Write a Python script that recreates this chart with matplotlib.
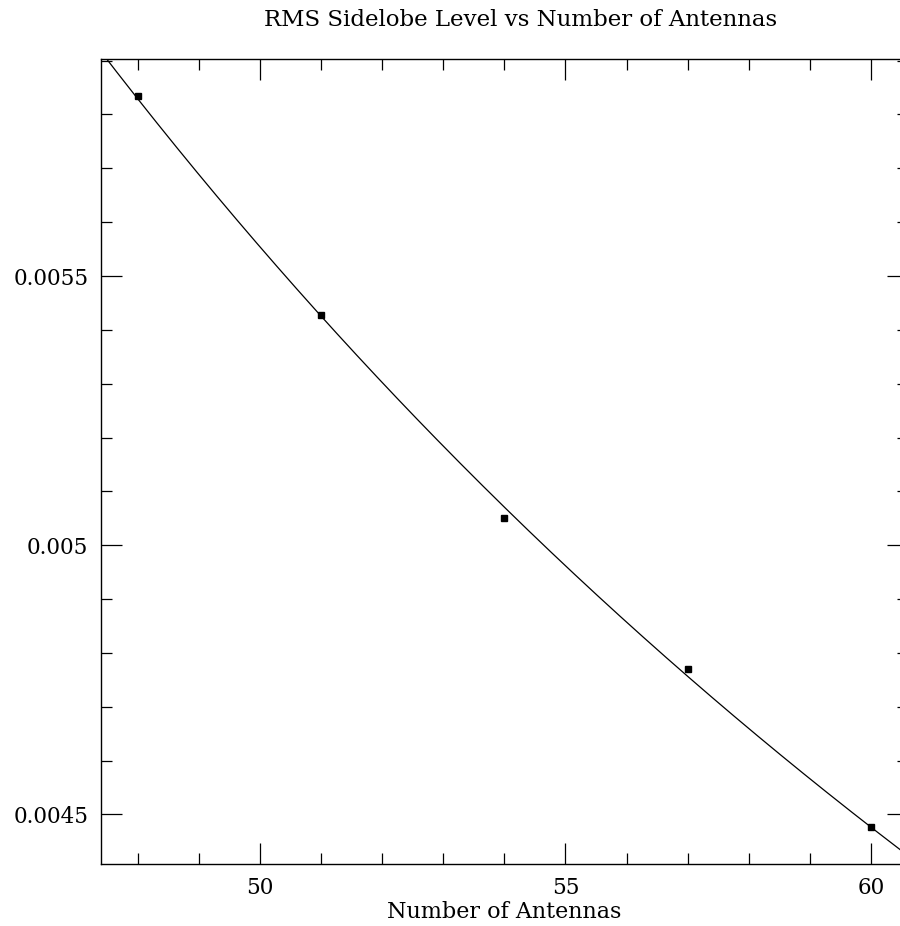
import numpy as np
import matplotlib
matplotlib.use('Agg')
import matplotlib.pyplot as plt
from matplotlib.ticker import MultipleLocator, FuncFormatter

# Data
antennas = [48, 51, 54, 57, 60]
rms_sidelobe = [0.005835, 0.005428, 0.005050, 0.004770, 0.004476]

# Power-law fit through the points (the drawn curve)
b, log_a = np.polyfit(np.log(antennas), np.log(rms_sidelobe), 1)
n_fit = np.linspace(47.0, 61.0, 300)
y_fit = np.exp(log_a) * n_fit ** b

plt.rcParams['font.family'] = ['DejaVu Serif']

fig = plt.figure(figsize=(9, 9.26), dpi=100)
ax = fig.add_axes([101 / 900, 1 - 864 / 926, (907.6 - 101) / 900, (864 - 59) / 926])

ax.plot(n_fit, y_fit, color='black', linewidth=0.9)
ax.plot(antennas, rms_sidelobe, linestyle='none', marker='s', markersize=5,
        color='black')

ax.set_xlim(47.4, 60.6)
ax.set_ylim(0.004408, 0.005903)

ax.xaxis.set_major_locator(MultipleLocator(5))
ax.xaxis.set_minor_locator(MultipleLocator(1))
ax.yaxis.set_major_locator(MultipleLocator(0.0005))
ax.yaxis.set_minor_locator(MultipleLocator(0.0001))
ax.yaxis.set_major_formatter(FuncFormatter(lambda v, p: ('%g' % round(v, 6))))

ax.tick_params(which='both', direction='in', top=True, right=True,
               width=0.9, labelsize=15.5)
ax.tick_params(which='major', length=15, pad=9)
ax.tick_params(which='minor', length=8)
for s in ax.spines.values():
    s.set_linewidth(1.0)

ax.set_xlabel('Number of Antennas', fontsize=16, labelpad=2)
fig.text(521 / 900, 1 - 20 / 926, 'RMS Sidelobe Level vs Number of Antennas',
         ha='center', va='center', fontsize=16.5)

fig.savefig('out.png', dpi=100)
